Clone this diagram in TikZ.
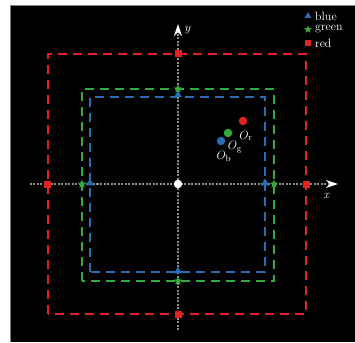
\documentclass[tikz,border=0pt]{standalone}
\usepackage{tikz}
\usetikzlibrary{arrows.meta, shapes.geometric, positioning}
\definecolor{frblue}{RGB}{40,110,180}
\definecolor{frgreen}{RGB}{50,170,60}
\definecolor{frred}{RGB}{225,35,35}
\definecolor{axgray}{RGB}{140,140,140}

\begin{document}
\begin{tikzpicture}[x=1pt, y=1pt,
  frame/.style={line width=1.1pt, dash pattern=on 9pt off 6pt},
  axis/.style={axgray, line width=1.3pt, dash pattern=on 2pt off 1.5pt,
               -{Stealth[length=12pt, width=8pt, color=white]}},
  bmark/.style={regular polygon, regular polygon sides=3, fill=frblue,
                inner sep=0pt, minimum size=9pt},
  gmark/.style={star, star points=5, star point ratio=2.3, fill=frgreen,
                inner sep=0pt, minimum size=9pt},
  rmark/.style={rectangle, fill=frred, inner sep=0pt, minimum size=7pt},
  cdot/.style={circle, inner sep=0pt, minimum size=8.5pt},
  olabel/.style={text=white, font=\fontsize{13}{15}\selectfont, inner sep=0pt},
  legtext/.style={text=white, font=\fontsize{12}{13}\selectfont, anchor=west, inner sep=0pt}
]
  %% Canvas
  \useasboundingbox (-178,-158) rectangle (177,184);
  \fill[white] (-178,-158) rectangle (177,184);
  \fill[black] (-168,-158) rectangle (177,179);
  \draw[gray, line width=0.8pt] (-168,-158) -- (-168,179) -- (177,179);

  %% Dashed squares
  \draw[frame, frred]   (-130,-130) rectangle (128,130);
  \draw[frame, frgreen] (-96,-97)   rectangle (96,95);
  \draw[frame, frblue]  (-88,-88)   rectangle (87,87);

  %% Axes
  \coordinate (xs) at (-148,0);
  \coordinate (xe) at (160,0);
  \coordinate (ys) at (0,-146);
  \coordinate (ye) at (0,160);
  \draw[axis] (xs) -- (xe);
  \draw[axis] (ys) -- (ye);
  \node[olabel] (xl) at (149,-12) {$x$};
  \node[olabel] (yl) at (10,154) {$y$};

  %% Markers on the axes
  \node[rmark] (rl) at (-130,0)  {};
  \node[rmark] (rr) at (128,0)   {};
  \node[rmark] (rt) at (0,130)   {};
  \node[rmark] (rb) at (0,-130)  {};
  \node[gmark] (gl) at (-96,0)   {};
  \node[gmark] (gr) at (96,0)    {};
  \node[gmark] (gt) at (0,95)    {};
  \node[gmark] (gb) at (0,-97)   {};
  \node[bmark] (bl) at (-88,1)   {};
  \node[bmark] (br) at (87,1)    {};
  \node[bmark] (bt) at (0,89)    {};
  \node[bmark] (bb) at (0,-87)   {};

  %% Origin and centres
  \node[cdot, fill=white] (o) at (0,0) {};
  \node[cdot, fill=frred]   (or) at (65,63) {};
  \node[cdot, fill=frgreen] (og) at (50,51) {};
  \node[cdot, fill=frblue]  (ob) at (43,43) {};
  \node[olabel] (orl) at (68,48) {$O_{\mathrm{r}}$};
  \node[olabel] (ogl) at (57,37) {$O_{\mathrm{g}}$};
  \node[olabel] (obl) at (46,28) {$O_{\mathrm{b}}$};

  %% Legend
  \node[bmark, minimum size=8pt] (lb) at (130,168) {};
  \node[gmark, minimum size=8pt] (lg) at (130,154.5) {};
  \node[rmark, minimum size=6pt] (lr) at (130,141) {};
  \node[legtext] (lbt) at (137,168) {blue};
  \node[legtext] (lgt) at (137,154.5) {green};
  \node[legtext] (lrt) at (137,141) {red};
\end{tikzpicture}
\end{document}
